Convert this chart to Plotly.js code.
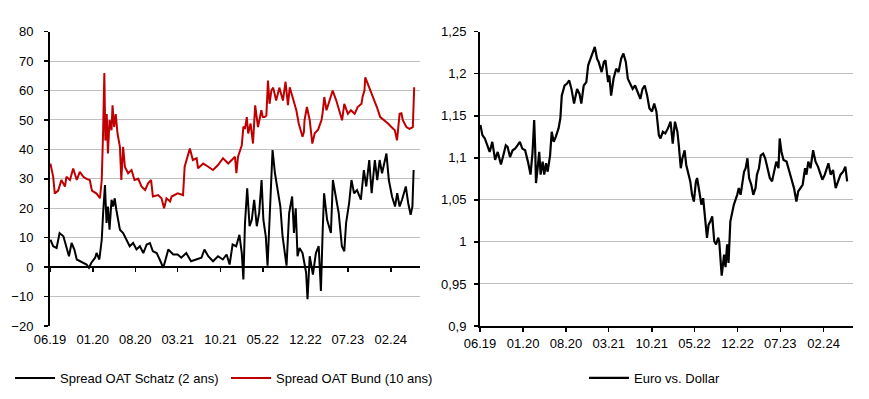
<!DOCTYPE html>
<html>
<head>
<meta charset="utf-8">
<script src="https://cdn.plot.ly/plotly-3.0.1.min.js"></script>
<style>html,body{margin:0;padding:0;background:#fff;}#chart{width:869px;height:399px;}</style>
</head>
<body>
<div id="chart"></div>
<script>
// ---- data ----
const schatzDates = ['2019-06-03','2019-06-17','2019-07-04','2019-07-19','2019-08-07','2019-08-22','2019-09-04','2019-09-17','2019-10-01','2019-10-13','2019-10-28','2019-11-15','2019-12-01','2019-12-13','2019-12-25','2020-01-13','2020-01-20','2020-02-03','2020-02-15','2020-02-22','2020-03-02','2020-03-10','2020-03-17','2020-03-25','2020-04-04','2020-04-12','2020-04-20','2020-04-28','2020-05-07','2020-05-16','2020-06-01','2020-06-19','2020-07-04','2020-07-21','2020-08-07','2020-08-24','2020-09-10','2020-09-27','2020-10-13','2020-10-28','2020-11-16','2020-12-01','2020-12-19','2021-01-04','2021-01-13','2021-02-07','2021-03-01','2021-03-19','2021-04-13','2021-05-07','2021-06-01','2021-06-28','2021-07-13','2021-08-01','2021-08-25','2021-09-19','2021-10-13','2021-11-01','2021-11-16','2021-12-01','2021-12-19','2022-01-04','2022-01-16','2022-01-24','2022-02-01','2022-02-12','2022-02-24','2022-03-07','2022-03-19','2022-04-01','2022-04-13','2022-04-25','2022-05-04','2022-05-16','2022-05-25','2022-06-07','2022-06-19','2022-07-01','2022-07-13','2022-07-28','2022-08-08','2022-08-19','2022-08-28','2022-09-10','2022-09-25','2022-10-04','2022-10-13','2022-10-22','2022-11-01','2022-11-16','2022-12-04','2022-12-11','2022-12-22','2023-01-07','2023-01-22','2023-02-05','2023-02-16','2023-02-25','2023-03-04','2023-03-19','2023-04-07','2023-04-17','2023-05-04','2023-05-16','2023-06-01','2023-06-13','2023-06-22','2023-07-07','2023-07-19','2023-08-01','2023-08-16','2023-09-04','2023-09-19','2023-10-01','2023-10-16','2023-10-28','2023-11-13','2023-11-25','2023-12-07','2023-12-19','2024-01-10','2024-01-22','2024-02-07','2024-02-22','2024-03-04','2024-03-16','2024-03-28','2024-04-16','2024-04-28','2024-05-10','2024-05-19','2024-05-25'];
const schatzValues = [9.3,7.1,6.5,11.6,10.5,7.1,3.7,8.2,6,2.6,2,1.5,0.9,-0.2,1.5,3.2,4.8,2.6,9.3,18.4,27.9,15,20.6,12.7,22.9,20.6,23.4,19.5,16.1,12.7,11.6,9.3,7.1,8.2,6,7.1,4.8,7.7,8.2,5.4,4.8,2.6,-0.2,3.7,6,4.3,4.3,3.2,4.8,2,2.6,3.2,6,3.7,2,3.7,2.6,4.3,0.9,7.7,7.1,11,4.8,-4.2,15,26.8,13.9,16.1,22.9,13.9,18.4,29.6,16.1,10.5,0.5,20.6,39.8,31.9,26.2,20.6,10.5,4.8,0.5,18.4,24,11.6,20,3.7,6.5,4.8,-1.9,-10.9,3.7,-2.5,4.8,7.1,-8.1,12.7,25.1,16.1,11.6,29.6,22.9,18.4,7.1,5.4,15,21.7,29.6,25.1,26.2,22.9,33,27.4,36.4,25.1,36.4,29.6,36.4,31.9,38.6,29.6,24,20.6,25.1,20.6,22.9,27.4,21.7,17.8,20.6,33];

const bundDates = ['2019-06-03','2019-06-17','2019-06-25','2019-07-12','2019-07-28','2019-08-15','2019-08-22','2019-09-09','2019-09-25','2019-10-13','2019-10-28','2019-11-15','2019-12-01','2019-12-17','2019-12-28','2020-01-20','2020-02-06','2020-02-15','2020-02-22','2020-02-28','2020-03-04','2020-03-11','2020-03-17','2020-03-25','2020-04-04','2020-04-09','2020-04-17','2020-04-25','2020-05-04','2020-05-16','2020-05-23','2020-06-01','2020-06-10','2020-06-26','2020-07-13','2020-07-28','2020-08-16','2020-09-01','2020-09-19','2020-10-04','2020-10-19','2020-10-28','2020-11-23','2020-12-10','2020-12-23','2021-01-04','2021-01-22','2021-01-30','2021-03-01','2021-03-28','2021-04-05','2021-04-22','2021-05-01','2021-05-16','2021-06-04','2021-06-11','2021-07-07','2021-08-01','2021-08-25','2021-09-19','2021-10-14','2021-11-09','2021-11-25','2021-12-13','2021-12-20','2021-12-28','2022-01-16','2022-01-24','2022-02-01','2022-02-10','2022-02-17','2022-03-01','2022-03-13','2022-03-24','2022-04-07','2022-04-24','2022-05-01','2022-05-10','2022-05-19','2022-05-27','2022-06-04','2022-06-13','2022-06-22','2022-07-07','2022-07-23','2022-08-10','2022-08-23','2022-09-04','2022-09-13','2022-09-22','2022-09-29','2022-10-16','2022-10-28','2022-11-16','2022-11-23','2022-11-26','2022-12-08','2022-12-22','2023-01-04','2023-01-16','2023-02-02','2023-02-19','2023-02-24','2023-03-05','2023-03-16','2023-04-01','2023-04-16','2023-05-04','2023-05-19','2023-06-02','2023-06-13','2023-07-01','2023-07-16','2023-08-04','2023-08-19','2023-09-07','2023-09-13','2023-09-22','2023-09-26','2023-10-08','2023-10-17','2023-11-04','2023-11-23','2023-12-10','2024-01-01','2024-01-18','2024-02-04','2024-02-21','2024-03-03','2024-03-16','2024-03-25','2024-04-01','2024-04-19','2024-05-04','2024-05-21','2024-05-28'];
const bundValues = [35.2,30.7,25,26,29.6,27.4,30.7,29.6,33.5,29.6,32.4,30.7,30,29.6,26,25,23.4,29.6,46.5,66,43,52,38.6,50,46.5,55,47.6,52,45.4,40.9,29.6,40.9,34,31.9,33,29.6,30,27.4,26.2,28.5,29.6,24,24.5,23.4,20,23.4,22.3,24,25.1,24.5,34.1,38.6,40.3,36.4,37,33.6,35.2,34.1,33,34.7,37,35.2,36.4,37.5,31.9,37.5,41.4,47.8,47,51,45.4,48.8,42,55,47.6,53.3,51,51,51.5,63.4,55.5,60,61,56.6,61,56.6,63,55,61.1,59,57.8,53.3,48.8,44.3,46,49.9,54.4,49.9,42,45.5,46.7,50,52.1,57.8,53.3,56.6,60,56.6,53.3,49.9,55.5,52.1,53.3,52.1,54.4,55.5,58,60,64.5,62.5,61.1,57.8,54.4,51,49.9,48.8,47.6,46.5,43.1,52.1,52.3,49.9,47.6,47,47.6,61.1];

const eurDates = ['2019-06-03','2019-06-13','2019-06-25','2019-07-08','2019-07-19','2019-08-01','2019-08-15','2019-08-28','2019-09-13','2019-09-25','2019-10-07','2019-10-16','2019-10-28','2019-11-10','2019-11-22','2019-12-05','2019-12-16','2019-12-28','2020-01-11','2020-01-25','2020-02-07','2020-02-17','2020-02-25','2020-03-01','2020-03-05','2020-03-13','2020-03-21','2020-03-28','2020-04-07','2020-04-15','2020-04-24','2020-05-02','2020-05-14','2020-05-22','2020-06-01','2020-06-11','2020-06-25','2020-07-04','2020-07-11','2020-07-25','2020-08-05','2020-08-17','2020-08-28','2020-09-10','2020-09-25','2020-10-07','2020-10-16','2020-10-28','2020-11-10','2020-11-19','2020-12-01','2020-12-11','2020-12-22','2021-01-02','2021-01-10','2021-01-25','2021-02-05','2021-02-13','2021-02-26','2021-03-04','2021-03-13','2021-03-25','2021-04-07','2021-04-19','2021-05-02','2021-05-13','2021-05-25','2021-06-04','2021-06-16','2021-06-28','2021-07-10','2021-07-24','2021-08-05','2021-08-16','2021-08-27','2021-09-08','2021-09-19','2021-10-02','2021-10-13','2021-10-24','2021-11-05','2021-11-13','2021-11-25','2021-12-07','2021-12-20','2022-01-02','2022-01-13','2022-01-24','2022-02-05','2022-02-12','2022-02-22','2022-03-02','2022-03-13','2022-03-21','2022-03-30','2022-04-10','2022-04-19','2022-04-28','2022-05-08','2022-05-14','2022-05-25','2022-06-04','2022-06-13','2022-06-24','2022-07-02','2022-07-10','2022-07-19','2022-07-28','2022-08-07','2022-08-16','2022-08-27','2022-09-01','2022-09-13','2022-09-25','2022-10-02','2022-10-10','2022-10-17','2022-10-26','2022-11-04','2022-11-12','2022-11-29','2022-12-07','2022-12-16','2022-12-25','2023-01-02','2023-01-10','2023-01-19','2023-01-27','2023-02-07','2023-02-17','2023-02-28','2023-03-07','2023-03-17','2023-03-26','2023-04-07','2023-04-17','2023-04-29','2023-05-10','2023-05-21','2023-06-02','2023-06-11','2023-06-22','2023-06-28','2023-07-07','2023-07-17','2023-08-01','2023-08-13','2023-08-24','2023-09-07','2023-09-19','2023-09-28','2023-10-10','2023-10-20','2023-11-01','2023-11-08','2023-11-17','2023-11-28','2023-12-11','2023-12-23','2024-01-04','2024-01-14','2024-01-26','2024-02-07','2024-02-17','2024-02-25','2024-03-07','2024-03-19','2024-04-01','2024-04-13','2024-04-25','2024-05-08','2024-05-19','2024-05-28'];
const eurValues = [1.139,1.127,1.123,1.115,1.107,1.119,1.0975,1.107,1.092,1.103,1.115,1.113,1.101,1.109,1.111,1.115,1.119,1.111,1.109,1.0955,1.08,1.107,1.145,1.111,1.07,1.0875,1.107,1.08,1.0955,1.08,1.0935,1.0835,1.103,1.131,1.119,1.125,1.135,1.147,1.174,1.186,1.188,1.192,1.182,1.1645,1.182,1.176,1.1645,1.186,1.19,1.21,1.218,1.226,1.232,1.218,1.214,1.202,1.214,1.216,1.19,1.198,1.174,1.194,1.206,1.202,1.218,1.224,1.214,1.194,1.188,1.182,1.186,1.176,1.17,1.182,1.186,1.174,1.159,1.155,1.1645,1.155,1.127,1.123,1.131,1.129,1.135,1.143,1.117,1.143,1.131,1.115,1.0876,1.0995,1.109,1.0915,1.0835,1.072,1.056,1.048,1.072,1.076,1.06,1.0444,1.052,1.0205,1.0048,1.0205,1.0245,1.0304,1.0008,0.997,1.005,1.0,0.96,0.985,0.97,0.997,0.975,1.0245,1.036,1.044,1.056,1.064,1.056,1.072,1.0835,1.0876,1.0995,1.076,1.068,1.056,1.064,1.08,1.0876,1.103,1.105,1.0995,1.0876,1.076,1.072,1.0876,1.0955,1.0876,1.123,1.107,1.0975,1.0955,1.0835,1.076,1.064,1.048,1.06,1.064,1.068,1.0876,1.08,1.0955,1.0876,1.109,1.0955,1.0896,1.0835,1.074,1.08,1.0876,1.0935,1.08,1.0856,1.064,1.072,1.08,1.0835,1.0896,1.072];

const xTickDates = ['2019-06-01','2020-01-01','2020-08-01','2021-03-01','2021-10-01','2022-05-01','2022-12-01','2023-07-01','2024-02-01'];
const xTickLabels = ['06.19','01.20','08.20','03.21','10.21','05.22','12.22','07.23','02.24'];
const eurTickValues = [0.9,0.95,1,1.05,1.1,1.15,1.2,1.25];
const eurTickLabels = ['0,9','0,95','1','1,05','1,1','1,15','1,2','1,25'];
const seriesNames = ['Spread OAT Schatz (2 ans)','Spread OAT Bund (10 ans)','Euro vs. Dollar'];

// ---- layout ----
const W = 869, H = 399;
const FONT = 'Liberation Sans, Arial, sans-serif';
const xRange = ['2019-06-01','2024-06-26'];
const yDom = [1 - 326/H, 1 - 31.7/H];
const leftDom = [50/W, 420/W];
const rightDom = [480/W, 853/W];
const leftRange = [-20, 80];
const zeroPos = yDom[0] + (0 - leftRange[0]) / (leftRange[1] - leftRange[0]) * (yDom[1] - yDom[0]);
const GRID = '#bfbfbf';
const tickFont = {family: FONT, size: 13, color: '#000'};

const traces = [
  {x: bundDates, y: bundValues, name: seriesNames[1], type: 'scatter', mode: 'lines',
   line: {color: '#c00000', width: 2}, xaxis: 'x', yaxis: 'y', legend: 'legend', legendrank: 2},
  {x: schatzDates, y: schatzValues, name: seriesNames[0], type: 'scatter', mode: 'lines',
   line: {color: '#000000', width: 2}, xaxis: 'x3', yaxis: 'y', legend: 'legend', legendrank: 1},
  {x: eurDates, y: eurValues, name: seriesNames[2], type: 'scatter', mode: 'lines',
   line: {color: '#000000', width: 2.2}, xaxis: 'x2', yaxis: 'y2', legend: 'legend2'}
];

const layout = {
  width: W, height: H,
  margin: {l: 0, r: 0, t: 0, b: 0},
  paper_bgcolor: '#fff', plot_bgcolor: '#fff',
  font: {family: FONT, size: 13, color: '#000'},
  showlegend: true,
  hovermode: false,
  xaxis: {domain: leftDom, anchor: 'y', type: 'date', range: xRange,
    tickmode: 'array', tickvals: xTickDates, ticktext: xTickLabels,
    showgrid: false, zeroline: false, showline: false, ticks: '',
    tickfont: tickFont, ticklabelstandoff: 4},
  xaxis3: {domain: leftDom, overlaying: 'x', anchor: 'free', position: zeroPos, type: 'date', range: xRange,
    tickmode: 'array', tickvals: xTickDates, showticklabels: false,
    showgrid: false, zeroline: false, showline: true, linecolor: '#000', linewidth: 2,
    ticks: 'outside', ticklen: 4, tickwidth: 1.5, tickcolor: '#000'},
  yaxis: {domain: yDom, anchor: 'x', range: leftRange, dtick: 10, tick0: 0,
    showgrid: true, gridcolor: GRID, gridwidth: 1, zeroline: true, zerolinecolor: '#000', zerolinewidth: 2,
    showline: true, linecolor: '#000', linewidth: 2,
    ticks: 'outside', ticklen: 4, tickwidth: 1.5, tickcolor: '#000',
    tickfont: tickFont, ticklabelstandoff: 8},
  xaxis2: {domain: rightDom, anchor: 'y2', type: 'date', range: xRange,
    tickmode: 'array', tickvals: xTickDates, ticktext: xTickLabels,
    showgrid: false, zeroline: false, showline: true, linecolor: '#000', linewidth: 2,
    ticks: 'outside', ticklen: 4, tickwidth: 1.5, tickcolor: '#000',
    tickfont: tickFont, ticklabelstandoff: 0},
  yaxis2: {domain: yDom, anchor: 'x2', range: [0.9, 1.25],
    tickmode: 'array', tickvals: eurTickValues, ticktext: eurTickLabels,
    showgrid: true, gridcolor: GRID, gridwidth: 1, zeroline: false,
    showline: true, linecolor: '#000', linewidth: 2,
    ticks: 'outside', ticklen: 4, tickwidth: 1.5, tickcolor: '#000',
    tickfont: tickFont, ticklabelstandoff: 5},
  legend: {orientation: 'h', x: 10/W, xanchor: 'left', y: 1 - 378/H, yanchor: 'middle',
    bgcolor: 'rgba(0,0,0,0)', font: {family: FONT, size: 13, color: '#000'},
    itemwidth: 40, entrywidth: 161, entrywidthmode: 'pixels', traceorder: 'normal'},
  legend2: {orientation: 'h', x: 584/W, xanchor: 'left', y: 1 - 378/H, yanchor: 'middle',
    bgcolor: 'rgba(0,0,0,0)', font: {family: FONT, size: 13, color: '#000'},
    itemwidth: 40}
};

Plotly.newPlot('chart', traces, layout, {displayModeBar: false, staticPlot: true});
</script>
</body>
</html>
